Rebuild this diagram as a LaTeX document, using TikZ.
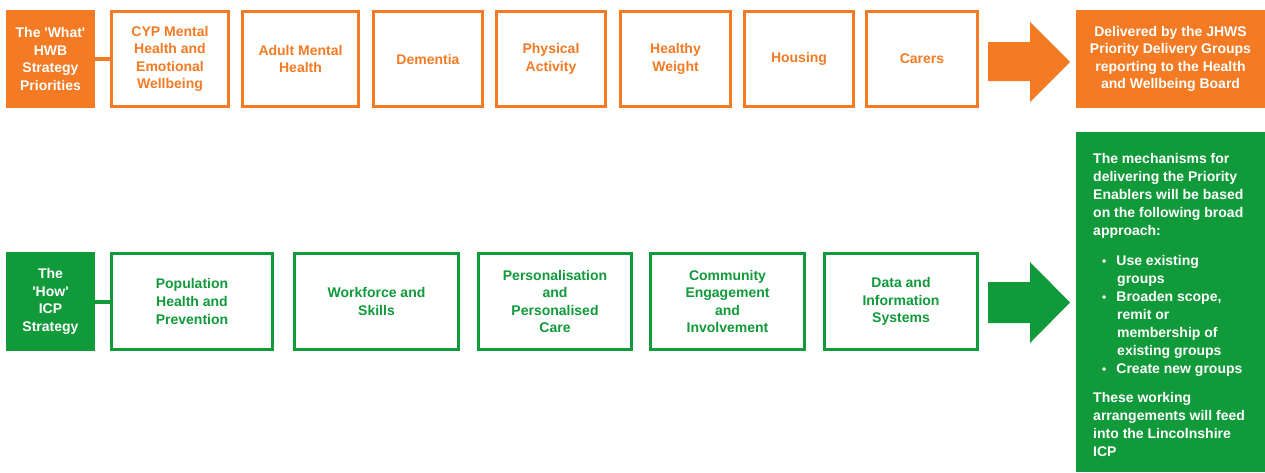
\documentclass[tikz,border=0pt]{standalone}
\usepackage{fontspec}
\setmainfont{Liberation Sans}
\definecolor{hwborange}{RGB}{245,122,36}
\definecolor{icpgreen}{RGB}{16,154,58}
\newcommand{\sq}{\textquotesingle}

\begin{document}
\begin{tikzpicture}[x=1pt,y=-1pt,
  every node/.style={font=\fontsize{14}{17.6}\selectfont\bfseries,
                     inner sep=0pt, align=center},
  whathead/.style={fill=hwborange, text=white, minimum width=89, minimum height=98},
  whatbox/.style={draw=hwborange, line width=3pt, text=hwborange, fill=white,
                  minimum height=95},
  howhead/.style={fill=icpgreen, text=white, minimum width=89, minimum height=99},
  howbox/.style={draw=icpgreen, line width=3pt, text=icpgreen, fill=white,
                 minimum height=96},
  link/.style={line width=4pt},
  bul/.style={}]
\useasboundingbox (0,0) rectangle (1265,472);

% ---- HWB strategy priorities (top row)
\node[whathead] (what) at (50.5,59) {The \sq What\sq\\HWB\\Strategy\\Priorities};
\node[whatbox, minimum width=117] (cyp)      at (170,59)   {CYP Mental\\Health and\\Emotional\\Wellbeing};
\node[whatbox, minimum width=116] (adult)    at (300.5,59) {Adult Mental\\Health};
\node[whatbox, minimum width=109] (dementia) at (428,59)   {Dementia};
\node[whatbox, minimum width=109] (physical) at (551,59)   {Physical\\Activity};
\node[whatbox, minimum width=110] (healthy)  at (675.5,59) {Healthy\\Weight};
\node[whatbox, minimum width=109] (housing)  at (799,59)   {Housing};
\node[whatbox, minimum width=111] (carers)   at (922,59)   {Carers};
\node[fill=hwborange, text=white, minimum width=189, minimum height=98] (deliver)
  at (1170.5,59) {Delivered by the JHWS\\Priority Delivery Groups\\reporting to the Health\\and Wellbeing Board};
\draw[link, hwborange] (what.east) -- (cyp.west);
\fill[hwborange] (988,42) -- (1030,42) -- (1030,22) -- (1070,62)
  -- (1030,102) -- (1030,81) -- (988,81) -- cycle;

% ---- ICP strategy enablers (bottom row)
\node[howhead] (how) at (50.5,301.5) {The\\\sq How\sq\\ICP\\Strategy};
\node[howbox, minimum width=161] (population) at (192,301.5)   {Population\\Health and\\Prevention};
\node[howbox, minimum width=164] (workforce)  at (376.5,301.5) {Workforce and\\Skills};
\node[howbox, minimum width=153] (personal)   at (555,301.5)   {Personalisation\\and\\Personalised\\Care};
\node[howbox, minimum width=154] (community)  at (727.5,301.5) {Community\\Engagement\\and\\Involvement};
\node[howbox, minimum width=153] (data)       at (901,301.5)   {Data and\\Information\\Systems};
\node[fill=icpgreen, minimum width=189, minimum height=340] (mech) at (1170.5,302) {};
\node[text=white, align=left, anchor=north west,
      font=\fontsize{14}{18}\selectfont\bfseries] (mechtext) at (1093,153)
  {The mechanisms for\\
   delivering the Priority\\
   Enablers will be based\\
   on the following broad\\
   approach:\\[12pt]
   \hspace*{9pt}{\fontsize{12}{12}\selectfont\textbullet}\hspace*{10pt}Use existing\\
   \hspace*{24pt}groups\\
   \hspace*{9pt}{\fontsize{12}{12}\selectfont\textbullet}\hspace*{10pt}Broaden scope,\\
   \hspace*{24pt}remit or\\
   \hspace*{24pt}membership of\\
   \hspace*{24pt}existing groups\\
   \hspace*{9pt}{\fontsize{12}{12}\selectfont\textbullet}\hspace*{10pt}Create new groups\\[11pt]
   These working\\
   arrangements will feed\\
   into the Lincolnshire\\
   ICP};
\draw[link, icpgreen] (how.east) -- (population.west);
\fill[icpgreen] (988,282) -- (1030,282) -- (1030,262) -- (1070,302.5)
  -- (1030,343) -- (1030,323) -- (988,323) -- cycle;
\end{tikzpicture}
\end{document}
